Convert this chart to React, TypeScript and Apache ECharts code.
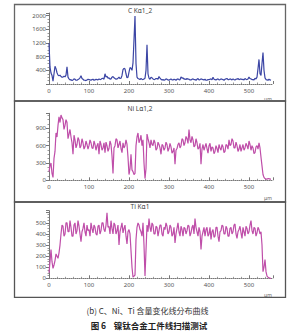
import React, { useEffect, useRef } from "react";
import * as echarts from "echarts";

// scan position (μm), 2.5 μm step
const distance = [
  0, 2.5, 5, 7.5, 10, 12.5, 15, 17.5, 20, 22.5, 25, 27.5, 30, 32.5, 35, 37.5, 40, 42.5, 45, 47.5,
  50, 52.5, 55, 57.5, 60, 62.5, 65, 67.5, 70, 72.5, 75, 77.5, 80, 82.5, 85, 87.5, 90, 92.5, 95, 97.5,
  100, 102.5, 105, 107.5, 110, 112.5, 115, 117.5, 120, 122.5, 125, 127.5, 130, 132.5, 135, 137.5, 140, 142.5, 145, 147.5,
  150, 152.5, 155, 157.5, 160, 162.5, 165, 167.5, 170, 172.5, 175, 177.5, 180, 182.5, 185, 187.5, 190, 192.5, 195, 197.5,
  200, 202.5, 205, 207.5, 210, 212.5, 215, 217.5, 220, 222.5, 225, 227.5, 230, 232.5, 235, 237.5, 240, 242.5, 245, 247.5,
  250, 252.5, 255, 257.5, 260, 262.5, 265, 267.5, 270, 272.5, 275, 277.5, 280, 282.5, 285, 287.5, 290, 292.5, 295, 297.5,
  300, 302.5, 305, 307.5, 310, 312.5, 315, 317.5, 320, 322.5, 325, 327.5, 330, 332.5, 335, 337.5, 340, 342.5, 345, 347.5,
  350, 352.5, 355, 357.5, 360, 362.5, 365, 367.5, 370, 372.5, 375, 377.5, 380, 382.5, 385, 387.5, 390, 392.5, 395, 397.5,
  400, 402.5, 405, 407.5, 410, 412.5, 415, 417.5, 420, 422.5, 425, 427.5, 430, 432.5, 435, 437.5, 440, 442.5, 445, 447.5,
  450, 452.5, 455, 457.5, 460, 462.5, 465, 467.5, 470, 472.5, 475, 477.5, 480, 482.5, 485, 487.5, 490, 492.5, 495, 497.5,
  500, 502.5, 505, 507.5, 510, 512.5, 515, 517.5, 520, 522.5, 525, 527.5, 530, 532.5, 535, 537.5, 540, 542.5, 545, 547.5,
  550, 552.5, 555,
];

const carbon = [
  1200, 500, 320, 250, 80, 300, 520, 450, 330, 260, 240, 260, 220, 200, 200, 230, 210, 260, 500, 200,
  150, 120, 130, 100, 120, 150, 140, 110, 110, 130, 150, 180, 240, 160, 140, 110, 110, 100, 120, 140,
  130, 120, 110, 130, 140, 110, 120, 140, 130, 120, 150, 130, 140, 160, 170, 140, 300, 200, 230, 170,
  180, 140, 150, 200, 220, 180, 160, 140, 150, 170, 200, 160, 170, 250, 420, 460, 440, 300, 180, 200,
  350, 480, 460, 400, 620, 1300, 1990, 600, 200, 160, 150, 130, 160, 140, 130, 150, 170, 400, 1150, 300,
  170, 140, 200, 180, 150, 130, 140, 160, 160, 140, 220, 170, 140, 120, 130, 110, 120, 150, 140, 120,
  110, 130, 150, 120, 120, 140, 130, 110, 140, 150, 130, 120, 210, 170, 180, 140, 150, 130, 160, 140,
  140, 120, 120, 140, 150, 130, 130, 110, 140, 160, 120, 130, 150, 140, 130, 120, 140, 110, 110, 130,
  130, 140, 150, 120, 200, 140, 130, 120, 140, 150, 120, 130, 150, 140, 130, 110, 140, 150, 160, 130,
  130, 150, 140, 120, 150, 130, 120, 140, 140, 160, 130, 140, 150, 130, 140, 120, 160, 140, 130, 150,
  200, 160, 150, 130, 130, 120, 170, 150, 200, 450, 720, 300, 250, 600, 920, 400, 180, 130, 120, 110,
  140, 120, 110,
];

const nickel = [
  150, 250, 300, 120, 50, 380, 500, 820, 750, 950, 1100, 1000, 1130, 1080, 1050, 880, 950, 1050, 1000, 720,
  800, 880, 750, 650, 450, 780, 700, 560, 620, 740, 700, 560, 600, 720, 650, 540, 580, 680, 620, 540,
  600, 700, 650, 560, 550, 680, 620, 520, 600, 640, 450, 680, 620, 520, 560, 650, 480, 660, 600, 500,
  550, 680, 620, 420, 120, 560, 600, 720, 700, 560, 620, 680, 550, 480, 650, 560, 600, 700, 620, 400,
  100, 200, 450, 180, 150, 100, 120, 600, 750, 820, 650, 700, 780, 600, 700, 300, 30, 200, 800, 720,
  650, 560, 700, 620, 600, 700, 650, 520, 550, 660, 620, 560, 450, 620, 600, 520, 560, 660, 620, 500,
  550, 640, 580, 470, 500, 560, 280, 520, 550, 620, 650, 560, 600, 720, 700, 600, 650, 760, 720, 640,
  880, 700, 650, 760, 700, 580, 600, 720, 650, 540, 560, 640, 280, 540, 620, 520, 580, 640, 550, 470,
  600, 640, 500, 580, 560, 460, 500, 600, 550, 480, 620, 560, 520, 620, 580, 480, 500, 620, 600, 540,
  700, 600, 620, 720, 680, 560, 560, 660, 600, 500, 540, 620, 500, 560, 620, 520, 560, 640, 600, 540,
  680, 620, 520, 600, 560, 460, 480, 580, 600, 540, 650, 560, 400, 250, 100, 50, 30, 20, 20, 30,
  30, 20, 20,
];

const titanium = [
  50, 150, 260, 150, 90, 120, 160, 220, 200, 180, 230, 300, 400, 480, 470, 380, 400, 500, 500, 420,
  420, 520, 460, 380, 380, 480, 500, 400, 430, 520, 470, 400, 330, 420, 450, 500, 420, 380, 480, 430,
  440, 380, 500, 450, 410, 480, 460, 400, 390, 470, 480, 400, 430, 500, 500, 440, 420, 480, 590, 460,
  470, 400, 520, 450, 400, 500, 480, 400, 430, 480, 300, 420, 460, 500, 410, 450, 480, 380, 310, 420,
  440, 400, 250, 100, 10, 20, 30, 350, 460, 500, 480, 440, 420, 380, 500, 300, 20, 250, 480, 420,
  540, 460, 420, 500, 480, 400, 400, 470, 460, 380, 430, 480, 480, 400, 380, 460, 440, 500, 470, 400,
  420, 480, 460, 380, 400, 460, 320, 400, 450, 500, 420, 380, 470, 440, 380, 460, 450, 400, 430, 480,
  470, 380, 410, 460, 480, 400, 540, 460, 420, 380, 460, 420, 260, 380, 420, 460, 380, 440, 460, 380,
  400, 460, 350, 420, 440, 370, 380, 460, 460, 380, 330, 420, 430, 480, 470, 400, 400, 470, 450, 380,
  380, 450, 460, 400, 420, 480, 490, 400, 360, 420, 440, 470, 410, 360, 460, 420, 380, 470, 450, 400,
  420, 480, 520, 430, 400, 460, 450, 380, 410, 460, 440, 400, 420, 300, 60, 100, 170, 60, 20, 10,
  5, 0, 0,
];

const panelTitles = ["C Kα1_2", "Ni Lα1,2", "Ti Kα1"];
const yIntervals = [400, 300, 100];
const yMaxes = [2080, 1160, 610];
const yLabels = [
  [400, 800, 1200, 1600, 2000],
  [0, 300, 600, 900],
  [0, 100, 200, 300, 400, 500],
];
const xTicks = [0, 100, 200, 300, 400, 500];
const seriesColors = ["#3c46a5", "#bf4ea9", "#bf4ea9"];

const FONT = "Noto Sans, DejaVu Sans, sans-serif";
const CJK = "Noto Sans CJK SC, sans-serif";

export default function App() {
  const ref = useRef<HTMLDivElement>(null);
  useEffect(() => {
    if (!ref.current) return;
    const chart = echarts.init(ref.current, null, { renderer: "svg" });
    const grids = [
      { left: 49, top: 13, width: 224, height: 71 },
      { left: 49, top: 113.3, width: 224, height: 67 },
      { left: 49, top: 210.7, width: 224, height: 67.6 },
    ];
    const allValues = [carbon, nickel, titanium];
    const option: any = {
      animation: false,
      backgroundColor: "#ffffff",
      grid: grids.map((g) => ({ ...g, containLabel: false })),
      xAxis: grids.map((_, i) => ({
        type: "value",
        gridIndex: i,
        min: 0,
        max: 560,
        interval: 100,
        axisLine: { show: true, lineStyle: { color: "#777", type: "dotted", width: 1 } },
        axisTick: { show: true, inside: true, length: 3, lineStyle: { color: "#777" } },
        minorTick: { show: true, splitNumber: 5, length: 1.5, lineStyle: { color: "#999" } },
        splitLine: { show: false },
        axisLabel: {
          fontSize: 6,
          color: "#555",
          fontFamily: FONT,
          margin: 4,
          formatter: (v: number) => (xTicks.includes(v) ? String(v) : ""),
        },
      })),
      yAxis: grids.map((_, i) => ({
        type: "value",
        gridIndex: i,
        min: 0,
        max: yMaxes[i],
        interval: yIntervals[i],
        axisLine: { show: true, lineStyle: { color: "#777", width: 1 } },
        axisTick: { show: true, length: 3, lineStyle: { color: "#777" } },
        minorTick: { show: true, splitNumber: 4, length: 1.5, lineStyle: { color: "#999" } },
        splitLine: { show: false },
        axisLabel: {
          fontSize: 6,
          color: "#555",
          fontFamily: FONT,
          margin: 3,
          formatter: (v: number) => (yLabels[i].includes(v) ? String(v) : ""),
        },
      })),
      series: allValues.map((vals, i) => ({
        type: "line",
        xAxisIndex: i,
        yAxisIndex: i,
        showSymbol: false,
        symbol: "none",
        lineStyle: { color: seriesColors[i], width: 1.2 },
        data: distance.map((d, k) => [d, vals[k]]),
      })),
      graphic: [
        { type: "rect", shape: { x: 14.5, y: 4.5, width: 271, height: 96.5 }, style: { fill: "none", stroke: "#666", lineWidth: 1.3 } },
        { type: "rect", shape: { x: 14.5, y: 101, width: 271, height: 101 }, style: { fill: "none", stroke: "#555", lineWidth: 1.3 } },
        { type: "rect", shape: { x: 14.5, y: 202, width: 271, height: 95.3 }, style: { fill: "none", stroke: "#555", lineWidth: 1.3 } },
        ...panelTitles.map((t, i) => ({
          type: "text",
          x: 140,
          y: [10, 108, 206][i],
          style: { text: t, fontSize: 6.5, fill: "#444", fontFamily: FONT, textAlign: "center", textVerticalAlign: "middle" },
        })),
        ...[99, 197.5, 295].map((y) => ({
          type: "text",
          x: 268,
          y,
          style: { text: "μm", fontSize: 5, fill: "#666", fontFamily: FONT, textAlign: "center", textVerticalAlign: "middle" },
        })),
        {
          type: "text",
          x: 147.5,
          y: 310,
          style: { text: "(b) C、Ni、Ti 含量变化线分布曲线", fontSize: 8, fill: "#333", fontFamily: CJK, textAlign: "center", textVerticalAlign: "middle" },
        },
        {
          type: "text",
          x: 149,
          y: 325,
          style: { text: "图 6    镍钛合金工件线扫描测试", fontSize: 8.5, fontWeight: "bold", fill: "#222", fontFamily: CJK, textAlign: "center", textVerticalAlign: "middle" },
        },
      ],
    };
    chart.setOption(option);
    return () => chart.dispose();
  }, []);
  return (
    <div
      ref={ref}
      style={{ position: "fixed", left: 0, top: 0, width: 295, height: 331, background: "#fff" }}
    />
  );
}
